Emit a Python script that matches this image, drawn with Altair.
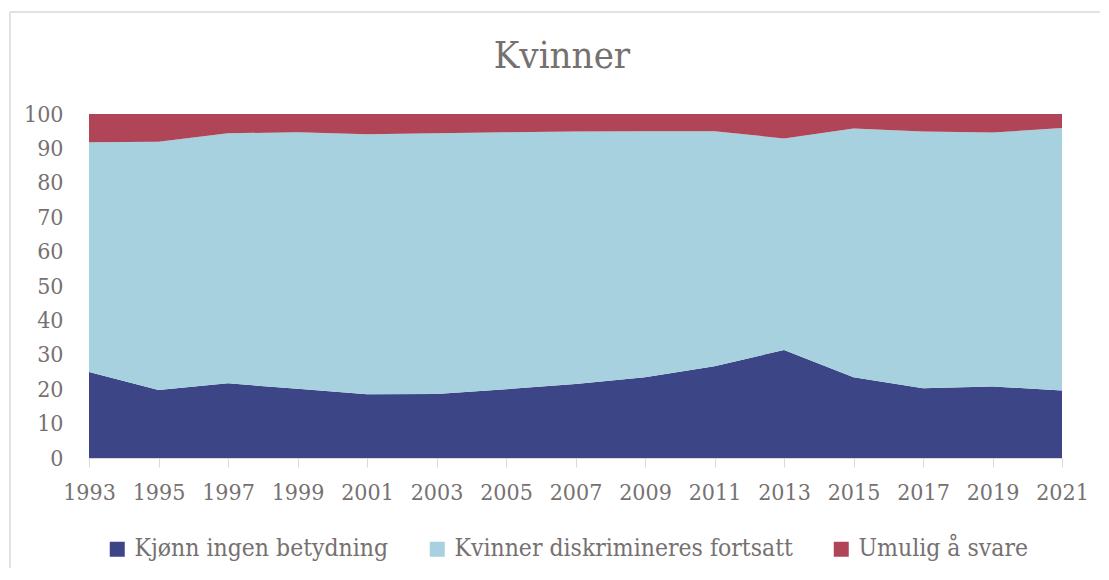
import altair as alt
import pandas as pd

title_text = "Kvinner"
years = [1993, 1995, 1997, 1999, 2001, 2003, 2005, 2007, 2009, 2011, 2013, 2015, 2017, 2019, 2021]
series_names = ["Kjønn ingen betydning", "Kvinner diskrimineres fortsatt", "Umulig å svare"]
kjonn = [25.0, 19.8, 21.7, 20.1, 18.5, 18.6, 20.0, 21.5, 23.5, 26.7, 31.4, 23.5, 20.3, 20.8, 19.6]
diskr = [66.8, 72.1, 72.7, 74.6, 75.6, 75.8, 74.7, 73.4, 71.5, 68.3, 61.5, 72.3, 74.6, 73.8, 76.3]
umulig = [8.2, 8.1, 5.6, 5.3, 5.9, 5.6, 5.3, 5.1, 5.0, 5.0, 7.1, 4.2, 5.1, 5.4, 4.1]
colors = ["#3c4586", "#a7d1de", "#b04557"]
y_ticks = list(range(0, 101, 10))

rows = []
for i, y in enumerate(years):
    for k, (name, vals) in enumerate(zip(series_names, [kjonn, diskr, umulig])):
        rows.append({"year": y, "serie": name, "value": vals[i], "ord": k})
df = pd.DataFrame(rows)

FONT = "DejaVu Serif Condensed, Roboto"
GRAY = "#767171"
FS = 23

area = alt.Chart(df).mark_area(opacity=1).encode(
    x=alt.X("year:Q", scale=alt.Scale(domain=[1993, 2021], nice=False, zero=False),
            axis=alt.Axis(values=years, format="d", title=None, grid=False,
                          domainColor="#d9d9d9", tickColor="#d9d9d9", tickSize=9,
                          labelPadding=14, labelFontSize=FS, labelFont=FONT, labelFontWeight=300,
                          labelColor=GRAY, labelFlush=False, labelOverlap=False)),
    y=alt.Y("value:Q", stack="zero", scale=alt.Scale(domain=[0, 100], nice=False),
            axis=alt.Axis(values=y_ticks, title=None, grid=False, domain=False, ticks=False,
                          labelPadding=26, labelFontSize=FS, labelFont=FONT, labelFontWeight=300,
                          labelColor=GRAY)),
    color=alt.Color("serie:N", scale=alt.Scale(domain=series_names, range=colors),
                    legend=alt.Legend(title=None, orient="none", legendX=16, legendY=423,
                                      direction="horizontal",
                                      symbolType="square", symbolSize=225, symbolStrokeWidth=0,
                                      labelFontSize=24.5, labelFont=FONT, labelFontWeight=300,
                                      labelColor=GRAY, padding=0,
                                      labelLimit=500, columnPadding=36, labelOffset=5,
                                      gridAlign="none")),
    order=alt.Order("ord:Q", sort="ascending"),
)

frame_top = alt.Chart(alt.Data(values=[{}])).mark_rule(stroke="#d9d9d9", strokeWidth=1.5).encode(
    x=alt.value(-79), x2=alt.value(1100), y=alt.value(-102)
)
frame_left = alt.Chart(alt.Data(values=[{}])).mark_rule(stroke="#d9d9d9", strokeWidth=1.5).encode(
    x=alt.value(-79), y=alt.value(-102), y2=alt.value(600)
)

title = alt.Chart(alt.Data(values=[{"t": title_text}])).mark_text(
    font=FONT, fontSize=38, fontWeight=300, color=GRAY, align="center", baseline="alphabetic"
).encode(x=alt.value(473), y=alt.value(-46), text="t:N")

chart = alt.layer(frame_top, frame_left, area, title).properties(
    width=973, height=344,
    autosize=alt.AutoSizeParams(type="none"),
    padding={"left": 81, "top": 106, "right": 38, "bottom": 110},
).configure_view(stroke=None)

chart.save("out.html", embed_options={"renderer": "svg", "actions": False})
